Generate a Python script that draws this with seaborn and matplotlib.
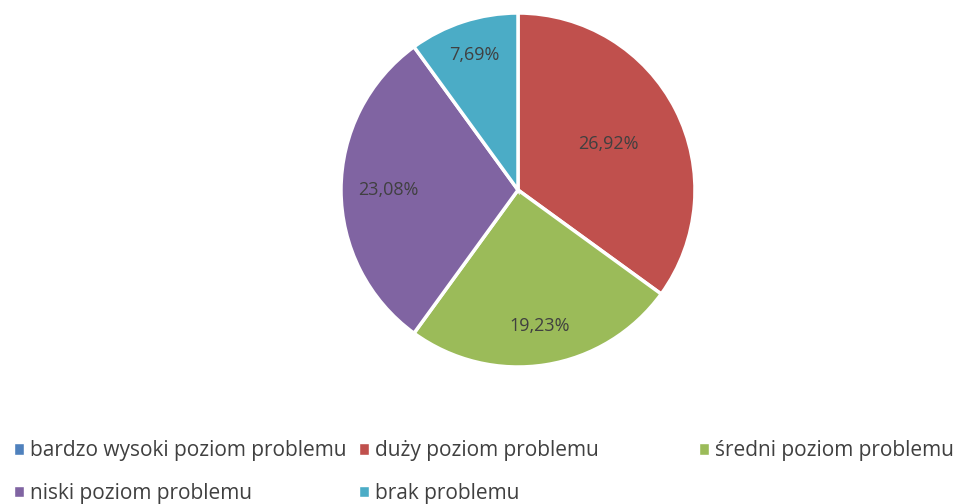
import numpy as np
import matplotlib
matplotlib.use("Agg")
import matplotlib.pyplot as plt
import seaborn as sns
from matplotlib.patches import Patch

#--------------------------------data----------------------------#
categories = ["bardzo wysoki poziom problemu", "duży poziom problemu",
              "średni poziom problemu", "niski poziom problemu", "brak problemu"]
shares = [0.0, 26.92, 19.23, 23.08, 7.69]
colors = ["#4F81BD", "#C0504D", "#9BBB59", "#8064A2", "#4BACC6"]

# how far from centre each percentage sits (Excel "best fit" look)
label_dist = [0.0, 0.57, 0.78, 0.73, 0.80]

sns.set_theme(style="white")
plt.rcParams["font.family"] = ["Open Sans", "DejaVu Sans"]
text_col = "#404040"

fig = plt.figure(figsize=(9.58, 5.04), dpi=100)
W, H = 958, 504
cx, cy, r = 518, 190, 177
ax = fig.add_axes([(cx - r) / W, (H - cy - r) / H, 2 * r / W, 2 * r / H])

wedges, _ = ax.pie(shares, colors=colors, startangle=90, counterclock=False,
                   radius=1.0, wedgeprops=dict(edgecolor="white", linewidth=2.5))
ax.set_xlim(-1, 1)
ax.set_ylim(-1, 1)
ax.set_aspect("equal")
ax.axis("off")

#percent labels, placed at mid angle of each slice
for w, v, d in zip(wedges, shares, label_dist):
    if v == 0:
        continue
    ang = np.deg2rad((w.theta1 + w.theta2) / 2)
    ax.text(d * np.cos(ang), d * np.sin(ang), f"{v:.2f}%".replace(".", ","),
            ha="center", va="center", fontsize=13, color=text_col)

#legend in three columns, like the Excel grid
handles = [Patch(facecolor=c) for c in colors]
col_idx = [[0, 3], [1, 4], [2]]
col_x = [4, 349, 689]
for idx, x in zip(col_idx, col_x):
    fig.legend([handles[i] for i in idx], [categories[i] for i in idx],
               loc="upper left", bbox_to_anchor=(x / W, 1 - 430 / H),
               frameon=False, fontsize=15, handlelength=0.45, handleheight=0.45,
               handletextpad=0.3, labelspacing=1.05, borderpad=0,
               labelcolor=text_col)

fig.savefig("out.png", dpi=100)
